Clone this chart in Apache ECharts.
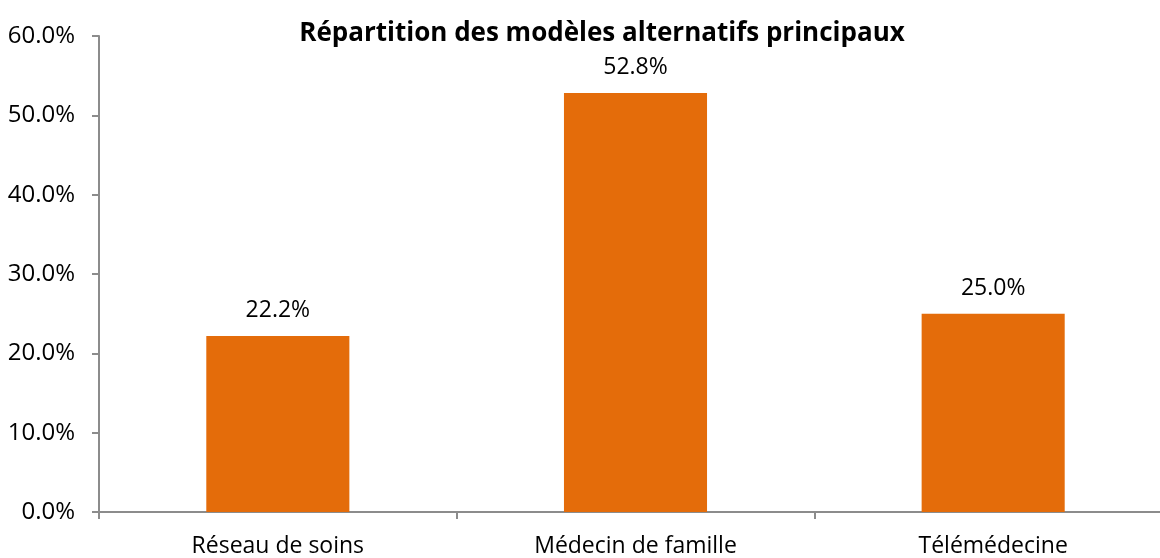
<!DOCTYPE html>
<html><head><meta charset="utf-8">
<script src="https://cdn.jsdelivr.net/npm/echarts@6/dist/echarts.min.js"></script>
<style>html,body{margin:0;padding:0;background:#fff;overflow:hidden}#c{width:1172px;height:558px}</style>
</head><body><div id="c"></div>
<script>
const title = "Répartition des modèles alternatifs principaux";
const categories = ["Réseau de soins", "Médecin de famille", "Télémédecine"];
const values = [22.2, 52.8, 25.0];
const FONT = "'Open Sans', sans-serif";
const chart = echarts.init(document.getElementById('c'));
chart.setOption({
  animation: false,
  title: { text: title, left: 597, top: 16, textAlign: 'center',
    textStyle: { fontFamily: FONT, fontSize: 26, fontWeight: 'bold', color: '#000' } },
  grid: { left: 99, right: 0, top: 36, bottom: 45, containLabel: false },
  xAxis: { type: 'category', data: categories,
    axisLine: { lineStyle: { color: '#8c8c8c', width: 2 } },
    axisTick: { show: true, length: 7, inside: false, lineStyle: { color: '#8c8c8c', width: 2 } },
    axisLabel: { fontFamily: FONT, fontSize: 23, color: '#000', margin: 23 } },
  yAxis: { type: 'value', min: 0, max: 60, interval: 10,
    splitLine: { show: false },
    axisLine: { show: true, lineStyle: { color: '#8c8c8c', width: 2 } },
    axisTick: { show: true, length: 7, lineStyle: { color: '#8c8c8c', width: 2 } },
    axisLabel: { fontFamily: FONT, fontSize: 24, color: '#000', margin: 24,
      formatter: v => v.toFixed(1) + '%' } },
  series: [{ type: 'bar', data: values, barWidth: '40%',
    itemStyle: { color: '#E46C0A' },
    label: { show: true, position: 'top', distance: 14, fontFamily: FONT, fontSize: 23, color: '#000',
      formatter: p => p.value.toFixed(1) + '%' } }]
});
</script></body></html>
